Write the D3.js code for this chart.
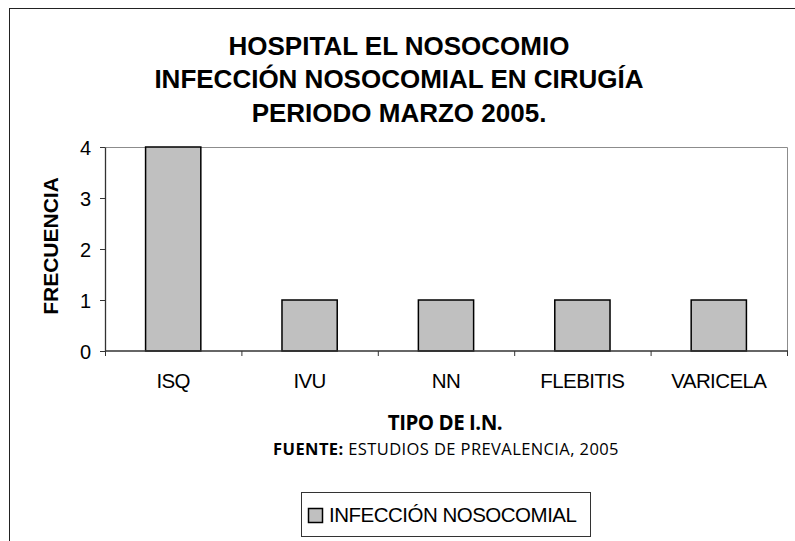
<!DOCTYPE html>
<html>
<head>
<meta charset="utf-8">
<script src="https://cdn.jsdelivr.net/npm/d3@7"></script>
<style>
  body { margin: 0; background: #fff; }
  svg { display: block; }
</style>
</head>
<body>
<div id="chart"></div>
<script>
const categories = ["ISQ", "IVU", "NN", "FLEBITIS", "VARICELA"];
const frecuencia = [4, 1, 1, 1, 1];
const yTicks = [0, 1, 2, 3, 4];
const titleLines = ["HOSPITAL EL NOSOCOMIO", "INFECCIÓN NOSOCOMIAL EN CIRUGÍA", "PERIODO MARZO 2005."];
const seriesName = "INFECCIÓN NOSOCOMIAL";

const W = 795, H = 541;
const plot = { left: 105, right: 787, top: 147, bottom: 351 };

const svg = d3.select("#chart").append("svg")
    .attr("width", W)
    .attr("height", H);

svg.append("rect")
    .attr("width", W).attr("height", H)
    .attr("fill", "#fff");

// outer chart border (runs off the right and bottom of the picture)
svg.append("rect")
    .attr("x", 9.5).attr("y", 8.5)
    .attr("width", 800).attr("height", 560)
    .attr("fill", "none")
    .attr("stroke", "#222")
    .attr("stroke-width", 1);

const x = d3.scaleBand()
    .domain(categories)
    .range([plot.left, plot.right])
    .paddingInner(0.595)
    .paddingOuter(0.2975);

const y = d3.scaleLinear()
    .domain([0, 4])
    .range([plot.bottom, plot.top]);

// plot area frame: top and right in gray
svg.append("path")
    .attr("d", `M${plot.left},${plot.top + 0.5}H${plot.right + 0.5}V${plot.bottom}`)
    .attr("fill", "none")
    .attr("stroke", "#8c8c8c")
    .attr("stroke-width", 1);

// bars
svg.selectAll("rect.bar")
    .data(categories)
    .enter().append("rect")
    .attr("class", "bar")
    .attr("x", d => x(d))
    .attr("y", (d, i) => y(frecuencia[i]))
    .attr("width", x.bandwidth())
    .attr("height", (d, i) => y(0) - y(frecuencia[i]))
    .attr("fill", "#c0c0c0")
    .attr("stroke", "#000")
    .attr("stroke-width", 1.5);

// y axis
const yAxis = svg.append("g")
    .attr("transform", `translate(${plot.left},0)`)
    .call(d3.axisLeft(y).tickValues(yTicks).tickFormat(d3.format("d")).tickSize(5).tickSizeOuter(0));
yAxis.select(".domain").attr("stroke", "#333").attr("stroke-width", 1.3);
yAxis.selectAll(".tick line").attr("stroke", "#333");
yAxis.selectAll(".tick text")
    .attr("x", -14)
    .attr("dy", "0.36em")
    .style("font-family", "Arial, 'Liberation Sans', sans-serif")
    .style("font-size", "20px")
    .attr("fill", "#000");

// x axis, ticks at category boundaries
const xAxis = svg.append("g")
    .attr("transform", `translate(0,${plot.bottom})`);
xAxis.append("line")
    .attr("x1", plot.left).attr("x2", plot.right + 1)
    .attr("stroke", "#333").attr("stroke-width", 1.5);
const step = x.step();
xAxis.selectAll("line.tk")
    .data(d3.range(categories.length + 1))
    .enter().append("line")
    .attr("class", "tk")
    .attr("x1", i => plot.left + i * step + 0.5)
    .attr("x2", i => plot.left + i * step + 0.5)
    .attr("y1", 0).attr("y2", 5)
    .attr("stroke", "#333");
xAxis.selectAll("text")
    .data(categories)
    .enter().append("text")
    .attr("x", d => x(d) + x.bandwidth() / 2)
    .attr("y", 37)
    .attr("text-anchor", "middle")
    .style("font-family", "Arial, 'Liberation Sans', sans-serif")
    .style("font-size", "20.5px")
    .style("letter-spacing", "-0.6px")
    .text(d => d);

// title
svg.append("g").selectAll("text")
    .data(titleLines)
    .enter().append("text")
    .attr("x", 399)
    .attr("y", (d, i) => 55 + i * 33.3)
    .attr("text-anchor", "middle")
    .style("font-family", "Arial, 'Liberation Sans', sans-serif")
    .style("font-weight", "bold")
    .style("font-size", "26px")
    .text(d => d);

// y axis title
svg.append("text")
    .attr("transform", "translate(58,246) rotate(-90)")
    .attr("text-anchor", "middle")
    .style("font-family", "Arial, 'Liberation Sans', sans-serif")
    .style("font-weight", "bold")
    .style("font-size", "21px")
    .text("FRECUENCIA");

// x axis title
svg.append("text")
    .attr("x", 445).attr("y", 430)
    .attr("text-anchor", "middle")
    .style("font-family", "'Open Sans', sans-serif")
    .style("font-weight", "bold")
    .style("font-size", "20.5px")
    .style("letter-spacing", "-0.5px")
    .text("TIPO DE I.N.");

// source line
const src = svg.append("text")
    .attr("x", 446).attr("y", 455)
    .attr("text-anchor", "middle")
    .style("font-family", "'Open Sans', sans-serif")
    .style("font-size", "16.5px")
    .style("letter-spacing", "0.4px");
src.append("tspan").style("font-weight", "bold").text("FUENTE");
src.append("tspan").style("font-weight", "bold").text(": ");
src.append("tspan").text("ESTUDIOS DE PREVALENCIA, 2005");

// legend
const legend = svg.append("g");
legend.append("rect")
    .attr("x", 301.5).attr("y", 492.5)
    .attr("width", 289).attr("height", 44)
    .attr("fill", "#fff")
    .attr("stroke", "#333")
    .attr("stroke-width", 1);
legend.append("rect")
    .attr("x", 308.5).attr("y", 508.5)
    .attr("width", 14).attr("height", 14)
    .attr("fill", "#c0c0c0")
    .attr("stroke", "#000")
    .attr("stroke-width", 1.5);
legend.append("text")
    .attr("x", 329).attr("y", 522)
    .style("font-family", "Arial, 'Liberation Sans', sans-serif")
    .style("font-size", "20.5px")
    .style("letter-spacing", "-0.5px")
    .text(seriesName);
</script>
</body>
</html>
